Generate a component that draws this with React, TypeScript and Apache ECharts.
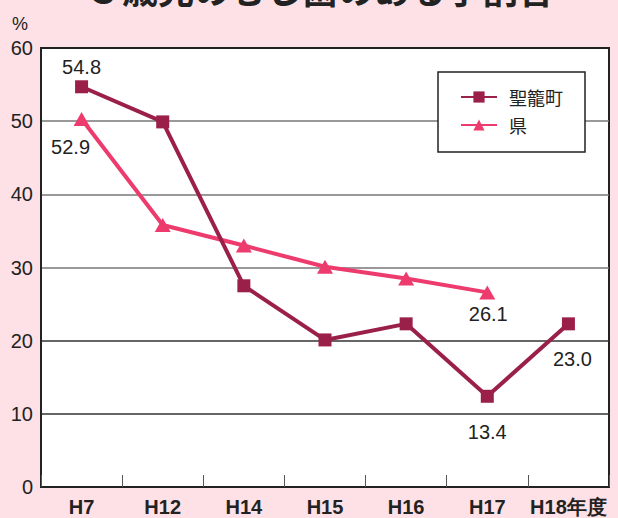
import React, { useEffect, useRef } from "react";
import * as echarts from "echarts";

const categories = ["H7", "H12", "H14", "H15", "H16", "H17", "H18年度"];
const townName = "聖籠町";
const prefName = "県";
const townValues = [54.7, 49.9, 27.5, 20.1, 22.3, 12.4, 22.3];
const prefValues: (number | null)[] = [50.3, 35.8, 33.0, 30.1, 28.5, 26.6, null];
const townLabels = ["54.8", "", "", "", "", "13.4", "23.0"];
const prefLabels = ["52.9", "", "", "", "", "26.1", ""];
const yTicks = [0, 10, 20, 30, 40, 50, 60];
const titleText = "３歳児のむし歯のある子割合";

const townOffsets: Record<number, [number, number]> = { 0: [0, -20], 5: [0, 36], 6: [4, 35] };
const prefOffsets: Record<number, [number, number]> = { 0: [-11, 28], 5: [1, 22] };

const FONT = "'Liberation Sans', Arial, sans-serif";

export default function App() {
  const ref = useRef<HTMLDivElement>(null);
  useEffect(() => {
    document.body.style.margin = "0";
    const chart = echarts.init(ref.current!, undefined, { renderer: "svg" });
    const mkData = (vals: (number | null)[], labels: string[], offs: Record<number, [number, number]>) =>
      vals.map((v, i) => ({
        value: v,
        label: labels[i]
          ? {
              show: true,
              position: "inside",
              offset: offs[i] || [0, 0],
              formatter: labels[i],
              color: "#222",
              fontSize: 20,
              fontFamily: FONT,
            }
          : { show: false },
      }));
    chart.setOption({
      animation: false,
      backgroundColor: "#FDE1E6",
      grid: {
        left: 41,
        right: 9,
        top: 48,
        bottom: 31,
        show: true,
        backgroundColor: "#ffffff",
        borderColor: "#222",
        borderWidth: 2,
      },
      graphic: [
        {
          type: "text",
          x: 320,
          y: 6,
          style: {
            text: titleText,
            fontSize: 36,
            fontWeight: "bold",
            fontFamily: "'Noto Sans CJK JP', sans-serif",
            fill: "#222",
            textAlign: "center",
            textVerticalAlign: "bottom",
          },
        },
        {
          type: "text",
          x: 20,
          y: 24,
          style: {
            text: "%",
            fontSize: 18,
            fontFamily: FONT,
            fill: "#222",
            textAlign: "center",
            textVerticalAlign: "middle",
          },
        },
      ],
      legend: {
        orient: "vertical",
        left: 438,
        top: 72,
        backgroundColor: "#ffffff",
        borderColor: "#222",
        borderWidth: 1.5,
        padding: [16, 22, 18, 22],
        itemWidth: 36,
        itemHeight: 14,
        itemGap: 10,
        textStyle: {
          fontSize: 18,
          color: "#222",
          fontFamily: "'Noto Sans CJK JP', sans-serif",
          padding: [0, 0, 0, 7],
        },
        data: [townName, prefName],
      },
      xAxis: {
        type: "category",
        data: categories,
        boundaryGap: true,
        axisLine: { show: true, lineStyle: { color: "#222", width: 2 } },
        axisTick: { show: true, inside: true, length: 12, interval: 0, lineStyle: { color: "#555", width: 1 } },
        axisLabel: {
          color: "#222",
          fontSize: 20,
          fontWeight: "bold",
          fontFamily: FONT,
          margin: 10,
          interval: 0,
          hideOverlap: false,
        },
        splitLine: { show: false },
      },
      yAxis: {
        type: "value",
        min: 0,
        max: 60,
        interval: 10,
        axisLine: { show: true, lineStyle: { color: "#222", width: 2 } },
        axisTick: { show: false },
        axisLabel: {
          color: "#222",
          fontSize: 20,
          fontFamily: FONT,
          margin: 8,
          formatter: (v: number) => (yTicks.includes(v) ? String(v) : ""),
        },
        splitLine: {
          show: true,
          lineStyle: { color: ["#222", "#333", "#333", "#777", "#777", "#777", "#222"], width: 1.5 },
        },
      },
      series: [
        {
          name: townName,
          type: "line",
          data: mkData(townValues, townLabels, townOffsets),
          symbol: "rect",
          symbolSize: 13,
          itemStyle: { color: "#9B2049" },
          lineStyle: { color: "#9B2049", width: 4 },
          z: 3,
        },
        {
          name: prefName,
          type: "line",
          data: mkData(prefValues, prefLabels, prefOffsets),
          symbol: "triangle",
          symbolSize: [16, 14],
          itemStyle: { color: "#EE3B6E" },
          lineStyle: { color: "#EE3B6E", width: 4 },
          z: 2,
        },
      ],
    });
    return () => chart.dispose();
  }, []);
  return <div ref={ref} style={{ position: "absolute", left: 0, top: 0, width: 618, height: 518 }} />;
}
